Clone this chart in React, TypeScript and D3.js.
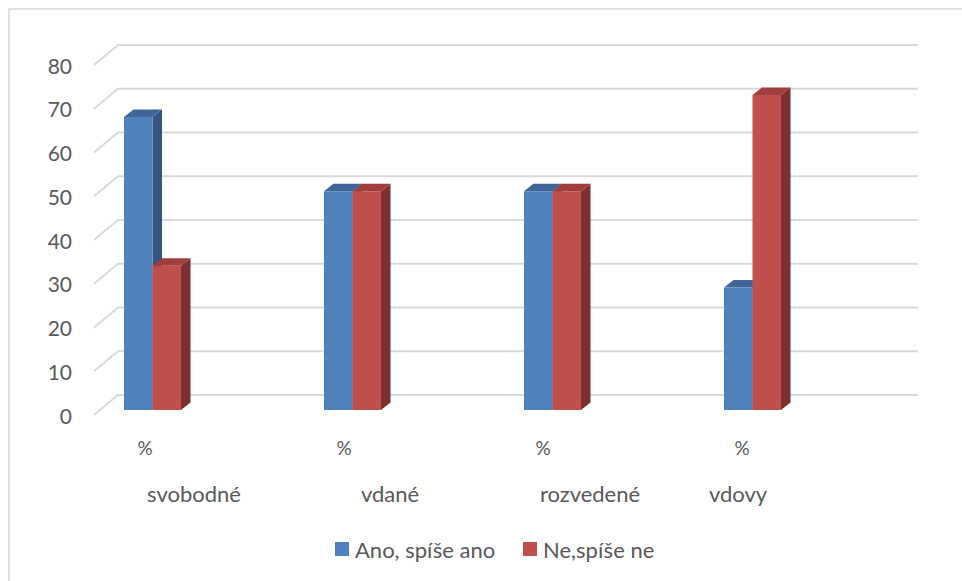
import React from "react";
import * as d3 from "d3";

const categories = ["svobodné", "vdané", "rozvedené", "vdovy"];
const unitLabels = ["%", "%", "%", "%"];
const seriesNames = ["Ano, spíše ano", "Ne,spíše ne"];
const anoValues = [67, 50, 50, 28];
const neValues = [33, 50, 50, 72];
const yTicks = [0, 10, 20, 30, 40, 50, 60, 70, 80];

const W = 962;
const H = 581;
const FONT = "Lato, 'Open Sans', sans-serif";
const TXT = "#595959";

const faces = [
  { front: "#4F81BD", side: "#34557F", top: "#3E6698" },
  { front: "#C0504D", side: "#7B2F2E", top: "#A03E3B" },
];

export default function App() {
  const y = d3.scaleLinear().domain([0, 80]).range([415, 65]);
  const x = d3.scaleBand<string>().domain(categories).range([94, 894]).paddingInner(0).paddingOuter(0);
  const xs = d3.scaleBand<string>().domain(seriesNames).range([0, 57]);

  const DX = 24, DY = -20;
  const bfy = -5;
  const bdx = 9.5, bdy = -7.5;

  const series = [anoValues, neValues];
  const pctX = [51, 50, 49, 48];
  const catX = [100, 96, 96, 44];

  return (
    <svg width={W} height={H} style={{ position: "absolute", left: 0, top: 0, background: "#fff" }}>
      <rect x={9} y={9} width={W + 20} height={H + 20} fill="#fff" stroke="#d9d9d9" strokeWidth={1.5} />
      {yTicks.map((t) => {
        const yf = y(t);
        return (
          <g key={t}>
            <polyline
              points={`94,${yf} ${94 + DX},${yf + DY} 918,${yf + DY}`}
              fill="none"
              stroke="#d9d9d9"
              strokeWidth={1.8}
            />
            <text
              x={72}
              y={yf}
              textAnchor="end"
              dominantBaseline="central"
              fontFamily={FONT}
              fontSize={21}
              fill={TXT}
            >
              {t}
            </text>
          </g>
        );
      })}
      {categories.map((c, ci) => (
        <g key={c}>
          {series.map((vals, si) => {
            const x0 = (x(c) as number) + 30 + (xs(seriesNames[si]) as number);
            const w = xs.bandwidth();
            const y0 = y(0) + bfy;
            const y1 = y(vals[ci]) + bfy;
            const f = faces[si];
            return (
              <g key={si}>
                <polygon
                  points={`${x0 + w},${y1} ${x0 + w + bdx},${y1 + bdy} ${x0 + w + bdx},${y0 + bdy} ${x0 + w},${y0}`}
                  fill={f.side}
                />
                <polygon
                  points={`${x0},${y1} ${x0 + bdx},${y1 + bdy} ${x0 + w + bdx},${y1 + bdy} ${x0 + w},${y1}`}
                  fill={f.top}
                />
                <rect x={x0} y={y1} width={w} height={y0 - y1} fill={f.front} />
              </g>
            );
          })}
          <text
            x={(x(c) as number) + pctX[ci]}
            y={447}
            textAnchor="middle"
            dominantBaseline="central"
            fontFamily={FONT}
            fontSize={19}
            fill={TXT}
          >
            {unitLabels[ci]}
          </text>
          <text
            x={(x(c) as number) + catX[ci]}
            y={493}
            textAnchor="middle"
            dominantBaseline="central"
            fontFamily={FONT}
            fontSize={22}
            fill={TXT}
          >
            {c}
          </text>
        </g>
      ))}
      {seriesNames.map((s, i) => {
        const lx = [335, 523][i];
        return (
          <g key={s}>
            <rect x={lx} y={542} width={14} height={14} fill={faces[i].front} />
            <text x={lx + 20} y={549} dominantBaseline="central" fontFamily={FONT} fontSize={22} fill={TXT}>
              {s}
            </text>
          </g>
        );
      })}
    </svg>
  );
}
